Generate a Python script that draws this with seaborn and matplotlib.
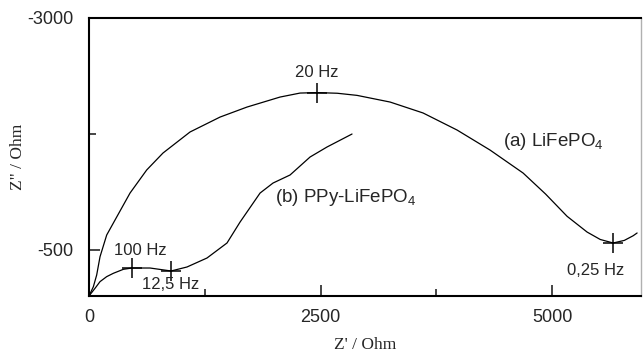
import numpy as np
import pandas as pd
import matplotlib
matplotlib.use("Agg")
import matplotlib.pyplot as plt
import seaborn as sns
from matplotlib.ticker import FixedLocator

# Data (Z' in Ohm, Z'' in Ohm)
a_x = [0, 47, 83, 119, 191, 281, 443, 623, 799, 1091, 1415, 1706, 2063, 2279, 2462,
       2680, 2894, 3251, 3607, 3974, 4330, 4687, 4930, 5162, 5378, 5520, 5659, 5780, 5875, 5918]
a_y = [0, -100, -227, -424, -658, -820, -1111, -1360, -1543, -1770, -1931, -2039, -2147,
       -2190, -2195, -2188, -2165, -2093, -1975, -1791, -1575, -1327, -1100, -860, -690,
       -610, -572, -600, -650, -680]
b_x = [0, 65, 119, 191, 263, 371, 464, 659, 886, 1058, 1274, 1490, 1631, 1847, 1987,
       2171, 2387, 2570, 2840]
b_y = [0, -83, -155, -209, -245, -288, -302, -302, -270, -313, -410, -572, -798, -1111,
       -1219, -1306, -1500, -1608, -1748]

# Frequency markers
freq_labels = ["20 Hz", "0,25 Hz", "100 Hz", "12,5 Hz"]
freq_x = [2462, 5659, 464, 886]
freq_y = [-2195, -572, -302, -270]

series_names = ["(a) LiFePO$_4$", "(b) PPy-LiFePO$_4$"]

x_major = [0, 2500, 5000]
x_minor = [1250, 3750]
y_major = [-500, -3000]
y_minor = [-1750]

df = pd.concat([
    pd.DataFrame({"x": a_x, "y": a_y, "s": "a"}),
    pd.DataFrame({"x": b_x, "y": b_y, "s": "b"}),
])

sns.set_style("white")
plt.rcParams["font.family"] = ["Liberation Sans", "DejaVu Sans"]
plt.rcParams["mathtext.default"] = "regular"

fig = plt.figure(figsize=(6.43, 3.53), dpi=100)
ax = fig.add_axes([89 / 643, 1 - 296 / 353, (641 - 89) / 643, (296 - 18) / 353])

sns.lineplot(data=df, x="x", y="y", units="s", estimator=None, sort=False,
             color="black", lw=0.9, ax=ax, legend=False)
ax.plot(freq_x, freq_y, ls="none", marker="+", ms=14, mew=1.1, color="black")

ax.set_xlim(0, 5960)
ax.set_ylim(0, -3000)

ax.xaxis.set_major_locator(FixedLocator(x_major))
ax.xaxis.set_minor_locator(FixedLocator(x_minor))
ax.yaxis.set_major_locator(FixedLocator(y_major))
ax.yaxis.set_minor_locator(FixedLocator(y_minor))
ax.set_xticklabels([str(v) for v in x_major])
ax.set_yticklabels([str(v) for v in y_major])
ax.tick_params(which="major", direction="in", length=8, width=1.2, labelsize=13, pad=9,
               bottom=True, left=True)
ax.tick_params(which="minor", direction="in", length=5, width=1.2, bottom=True, left=True)
ax.tick_params(axis="y", pad=11)

for side in ["left", "bottom", "top"]:
    ax.spines[side].set_color("black")
    ax.spines[side].set_linewidth(1.5)
ax.spines["right"].set_color("#b0b0b0")
ax.spines["right"].set_linewidth(1.0)

ax.set_xlabel("Z' / Ohm", family="Liberation Serif", fontsize=12.5, labelpad=8)
ax.set_ylabel('Z" / Ohm', family="Liberation Serif", fontsize=12.5, labelpad=1)

# Frequency annotations
ax.text(2462, -2410, freq_labels[0], fontsize=12, ha="center", va="center")
ax.text(5475, -280, freq_labels[1], fontsize=12, ha="center", va="center")
ax.text(551, -496, freq_labels[2], fontsize=12, ha="center", va="center")
ax.text(880, -119, freq_labels[3], fontsize=12, ha="center", va="center")

# Series labels
ax.text(5010, -1662, series_names[0], fontsize=13.5, ha="center", va="center")
ax.text(2776, -1068, series_names[1], fontsize=13.5, ha="center", va="center")

fig.savefig("out.png", dpi=100)
